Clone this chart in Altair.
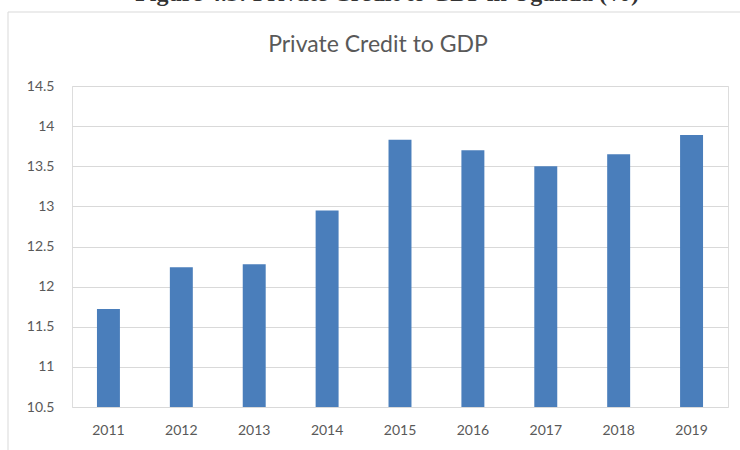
import altair as alt
import pandas as pd

years = ["2011", "2012", "2013", "2014", "2015", "2016", "2017", "2018", "2019"]
credit = [11.72, 12.24, 12.28, 12.95, 13.83, 13.70, 13.50, 13.65, 13.89]
y_ticks = [10.5, 11, 11.5, 12, 12.5, 13, 13.5, 14, 14.5]
y_base = 10.5

df = pd.DataFrame({"year": years, "credit": credit})

W, H = 656, 321
PAD = {"left": 72, "top": 86, "right": 12, "bottom": 43}

bars = alt.Chart(df).mark_bar(color="#4A7EBB").encode(
    x=alt.X("year:N", sort=years,
            scale=alt.Scale(paddingInner=0.685, paddingOuter=0.3425),
            axis=alt.Axis(title=None, labelAngle=0, domain=False, ticks=False,
                          labelPadding=16, labelFontSize=14, labelColor="#595959",
                          labelFont="Lato")),
    y=alt.Y("credit:Q",
            scale=alt.Scale(domain=[10.5, 14.5], zero=False, nice=False),
            axis=alt.Axis(title=None, values=y_ticks, domain=False, ticks=False,
                          format="~g",
                          labelPadding=18, labelFontSize=14, labelColor="#595959",
                          labelFont="Lato", gridColor="#D9D9D9", gridWidth=1)),
    y2=alt.datum(y_base),
)

title = alt.Chart(pd.DataFrame({"t": ["Private Credit to GDP"]})).mark_text(
    font="Lato", fontSize=23, color="#595959", align="center", baseline="alphabetic"
).encode(text="t:N", x=alt.value(306), y=alt.value(-34))

caption = alt.Chart(pd.DataFrame({"t": ["Figure 4.3: Private Credit to GDP in Uganda (%)"]})).mark_text(
    font="Liberation Serif", fontSize=24, fontWeight="bold", color="#333333",
    align="center", baseline="alphabetic"
).encode(text="t:N", x=alt.value(315), y=alt.value(-85))

frame_top = alt.Chart(pd.DataFrame({"k": [0]})).mark_rule(color="#D9D9D9", strokeWidth=1).encode(
    x=alt.value(-64), x2=alt.value(700), y=alt.value(-74))
frame_left = alt.Chart(pd.DataFrame({"k": [0]})).mark_rule(color="#D9D9D9", strokeWidth=1).encode(
    x=alt.value(-64), y=alt.value(-74), y2=alt.value(400))

chart = alt.layer(frame_top, frame_left, bars, title, caption).properties(
    width=W, height=H,
    autosize=alt.AutoSizeParams(type="none"),
    padding=PAD,
).configure_view(stroke=None).configure(background="white")

chart.save("out.html", embed_options={"renderer": "svg", "actions": False})
